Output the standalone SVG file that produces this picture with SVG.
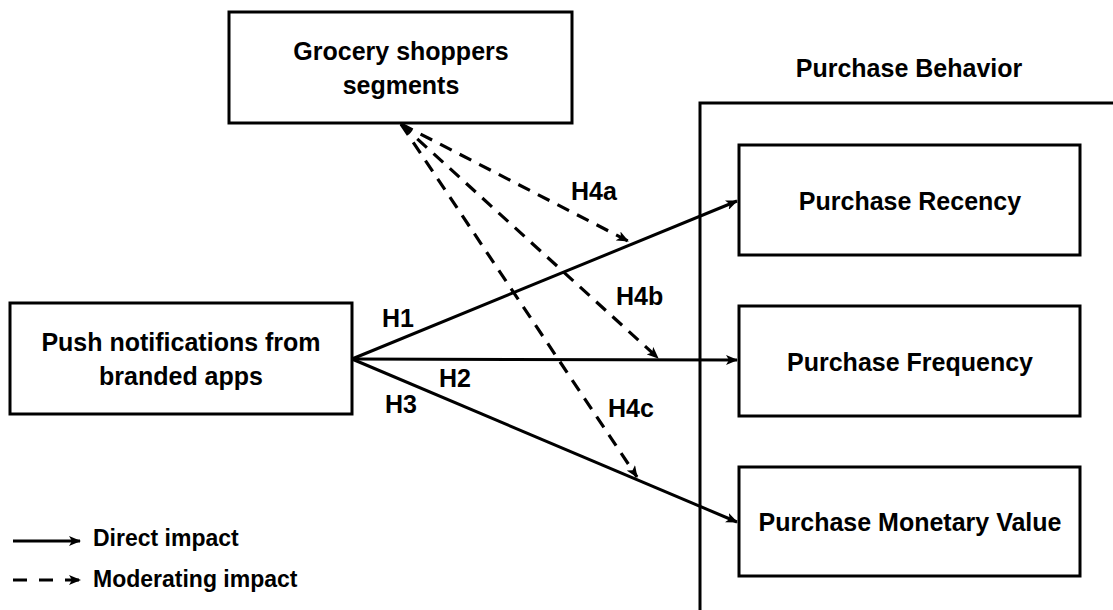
<svg xmlns="http://www.w3.org/2000/svg" width="1113" height="610" viewBox="0 0 1113 610">
  <defs>
    <style>
      .box { fill: #ffffff; stroke: #000000; stroke-width: 3; }
      .lbl { font-family: "Liberation Sans", Arial, sans-serif; font-weight: bold; font-size: 25px; fill: #000000; }
      .leg { font-size: 23px; }
      .mid { text-anchor: middle; }
      .solid { stroke: #000000; stroke-width: 3; fill: none; marker-end: url(#arrow); }
      .dash { stroke: #000000; stroke-width: 3.2; fill: none; stroke-dasharray: 13 9; marker-end: url(#arrow); }
    </style>
    <marker id="arrow" viewBox="0 0 12 10" refX="11" refY="5" markerWidth="12" markerHeight="10" markerUnits="userSpaceOnUse" orient="auto">
      <path d="M0,0 L12,5 L0,10 L3,5 Z" fill="#000000"/>
    </marker>
  </defs>
  <rect width="1113" height="610" fill="#ffffff"/>

  <g id="purchase-behavior">
    <rect class="box" x="700" y="103" width="500" height="600"/>
    <text class="lbl mid" x="909" y="77">Purchase Behavior</text>
  </g>

  <g id="grocery-segments">
    <rect class="box" x="229" y="12" width="343" height="111"/>
    <text class="lbl mid" x="401" y="60">Grocery shoppers</text>
    <text class="lbl mid" x="401" y="94">segments</text>
  </g>

  <g id="push-notifications">
    <rect class="box" x="10" y="303" width="342" height="111"/>
    <text class="lbl mid" x="181" y="351">Push notifications from</text>
    <text class="lbl mid" x="181" y="385">branded apps</text>
  </g>

  <g id="purchase-recency">
    <rect class="box" x="739" y="145" width="341" height="110"/>
    <text class="lbl mid" x="910" y="210">Purchase Recency</text>
  </g>

  <g id="purchase-frequency">
    <rect class="box" x="739" y="306" width="341" height="110"/>
    <text class="lbl mid" x="910" y="371">Purchase Frequency</text>
  </g>

  <g id="purchase-monetary">
    <rect class="box" x="739" y="467" width="341" height="109"/>
    <text class="lbl mid" x="910" y="531">Purchase Monetary Value</text>
  </g>

  <g id="connectors">
    <line class="solid" x1="352" y1="359" x2="737" y2="201"/>
    <line class="solid" x1="352" y1="359" x2="737" y2="360"/>
    <line class="solid" x1="352" y1="359" x2="737" y2="522"/>
    <line class="dash" x1="401" y1="124" x2="628" y2="241"/>
    <line class="dash" x1="401" y1="124" x2="658" y2="358"/>
    <line class="dash" x1="401" y1="124" x2="637" y2="477"/>
  </g>

  <g id="connector-labels">
    <text class="lbl" x="382" y="327">H1</text>
    <text class="lbl" x="439" y="387">H2</text>
    <text class="lbl" x="385" y="413">H3</text>
    <text class="lbl" x="571" y="200">H4a</text>
    <text class="lbl" x="616" y="305">H4b</text>
    <text class="lbl" x="608" y="417">H4c</text>
  </g>

  <g id="legend">
    <line class="solid" x1="13" y1="541" x2="80" y2="541"/>
    <text class="lbl leg" x="93" y="546">Direct impact</text>
    <line class="dash" x1="13" y1="580" x2="80" y2="580" style="stroke-dasharray: 14 12"/>
    <text class="lbl leg" x="93" y="587">Moderating impact</text>
  </g>
</svg>
